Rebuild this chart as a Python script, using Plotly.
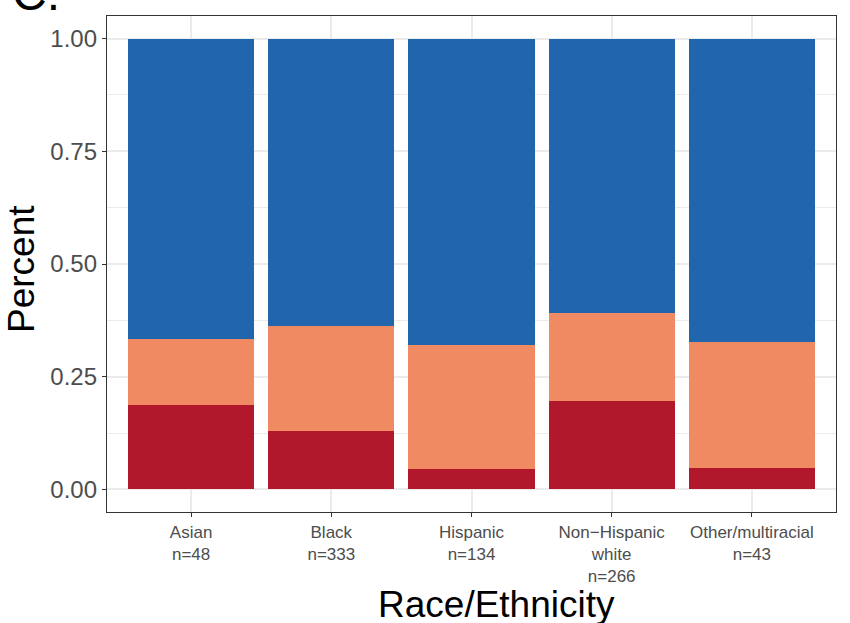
import plotly.graph_objects as go

categories = ["Asian", "Black", "Hispanic", "Non\u2212Hispanic<br>white", "Other/multiracial"]
sample_sizes = [48, 333, 134, 266, 43]
bottom_share = [0.188, 0.130, 0.045, 0.196, 0.047]
middle_share = [0.145, 0.232, 0.276, 0.195, 0.279]
top_share = [0.667, 0.638, 0.679, 0.609, 0.674]
y_ticks = [0.0, 0.25, 0.5, 0.75, 1.0]
y_tick_labels = ["0.00", "0.25", "0.50", "0.75", "1.00"]

FONT = "Liberation Sans, Arial, sans-serif"
W, H = 850, 623
L, R, T, B = 107, 14, 16, 111
pw, ph = W - L - R, H - T - B

def px_x(px):
    return (px - L) / pw

def px_y(py):
    return (H - B - py) / ph

xpos = list(range(len(categories)))
ticktext = [f"{c}<br>n={n}" for c, n in zip(categories, sample_sizes)]

fig = go.Figure()
for name, vals, col in [
    ("Bottom", bottom_share, "#B2182B"),
    ("Middle", middle_share, "#EF8A62"),
    ("Top", top_share, "#2166AC"),
]:
    fig.add_trace(go.Bar(x=xpos, y=vals, name=name, marker=dict(color=col, line=dict(width=0)),
                         width=0.9, showlegend=False))

fig.update_layout(
    barmode="stack",
    width=W, height=H,
    margin=dict(l=L, r=R, t=T, b=B, pad=0, autoexpand=False),
    paper_bgcolor="white", plot_bgcolor="white",
    font=dict(family=FONT),
)
fig.update_xaxes(
    range=[-0.6, 4.6], tickmode="array", tickvals=xpos, ticktext=ticktext,
    tickfont=dict(size=17, color="#4D4D4D", family=FONT),
    showgrid=True, gridcolor="#EBEBEB", gridwidth=1.6,
    ticks="outside", ticklen=4, tickcolor="#333333", tickwidth=1.2,
    showline=True, mirror=True, linecolor="#333333", linewidth=1.3,
    zeroline=False, automargin=False,
)
fig.update_yaxes(
    range=[-0.05, 1.05], tickmode="array", tickvals=y_ticks, ticktext=y_tick_labels,
    tickfont=dict(size=24, color="#4D4D4D", family=FONT),
    showgrid=True, gridcolor="#EBEBEB", gridwidth=1.6,
    minor=dict(tickmode="array", tickvals=[0.125, 0.375, 0.625, 0.875], showgrid=True,
               gridcolor="#EBEBEB", gridwidth=0.8, ticks=""),
    ticks="outside", ticklen=4, tickcolor="#333333", tickwidth=1.2,
    showline=True, mirror=True, linecolor="#333333", linewidth=1.3,
    zeroline=False, automargin=False,
)

fig.add_annotation(text="Race/Ethnicity", xref="paper", yref="paper",
                   x=px_x(496), y=px_y(604), xanchor="center", yanchor="middle",
                   showarrow=False, font=dict(size=37, color="black", family=FONT))
fig.add_annotation(text="Percent", xref="paper", yref="paper", textangle=-90,
                   x=px_x(21), y=px_y(269), xanchor="center", yanchor="middle",
                   showarrow=False, font=dict(size=37, color="black", family=FONT))
fig.add_annotation(text="C.", xref="paper", yref="paper",
                   x=px_x(10), y=px_y(-6), xanchor="left", yanchor="middle",
                   showarrow=False, font=dict(size=48, color="black", family=FONT))

fig.write_html("out.html", config={"displayModeBar": False},
               post_script="document.body.style.margin='0';document.body.style.overflow='hidden';")
